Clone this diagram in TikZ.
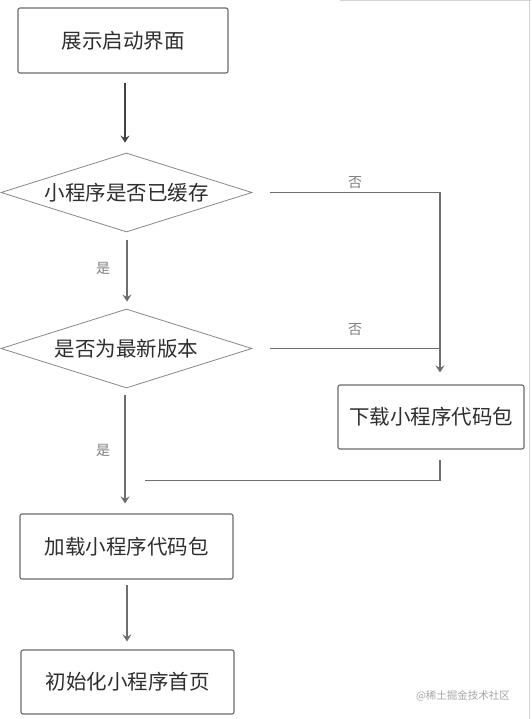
\documentclass[tikz,border=0pt]{standalone}
\usepackage{fontspec}
\newfontfamily\cjk{Noto Sans CJK SC}
\usetikzlibrary{shapes.geometric,arrows.meta}
\definecolor{boxline}{HTML}{6A6A6A}
\definecolor{conn}{HTML}{6E6E6E}
\definecolor{txt}{HTML}{2E2E2E}
\definecolor{lbl}{HTML}{808080}
\definecolor{edge}{HTML}{D4D4D4}
\tikzset{
  stepbox/.style={draw=boxline, line width=1.1pt, rounded corners=2pt, inner sep=0pt, font=\cjk\fontsize{20.5}{24}\selectfont, text=txt},
  decision/.style={draw=boxline!80, line width=0.8pt, shape=diamond, aspect=3.18, inner sep=0pt, minimum width=251pt, minimum height=79pt},
  conntext/.style={font=\cjk\fontsize{20.5}{24}\selectfont, text=txt, inner sep=0pt},
  arr/.style={draw=conn, line width=1.4pt, -{Stealth[length=7pt,width=9pt,inset=2.5pt]}},
  ln/.style={draw=conn, line width=1.4pt},
  yn/.style={font=\cjk\fontsize{14}{16}\selectfont, text=lbl, inner sep=0pt},
}
\begin{document}
\begin{tikzpicture}[x=1pt,y=-1pt]
\useasboundingbox (0,0) rectangle (531,719);
\fill[white] (0,0) rectangle (531,719);
\draw[edge, line width=1pt] (340,0.5) -- (531,0.5);
\draw[edge, line width=1pt] (529.5,0) -- (529.5,719);

\node[stepbox, minimum width=210pt, minimum height=65pt] (b1) at (123,40.5) {展示启动界面};
\node[decision] (d1) at (126.5,192.5) {};
\node[conntext] (t1) at (d1.center) {小程序是否已缓存};
\node[decision] (d2) at (126.5,348.5) {};
\node[conntext] (t2) at (d2.center) {是否为最新版本};
\node[stepbox, minimum width=186pt, minimum height=64pt] (b3) at (431,417) {下载小程序代码包};
\node[stepbox, minimum width=213pt, minimum height=65pt] (b4) at (126.5,546.5) {加载小程序代码包};
\node[stepbox, minimum width=213pt, minimum height=64pt] (b5) at (127.5,682) {初始化小程序首页};

\coordinate (c1) at (440,192.5);
\coordinate (c2) at (440,348.5);
\coordinate (j1) at (440,480.5);
\coordinate (j2) at (145,480.5);

% connectors
\draw[arr, draw=txt!90, shorten <=9pt, shorten >=10pt] ([xshift=2pt]b1.south) -- ([xshift=-1.5pt]d1.north);
\draw[arr, shorten <=8pt, shorten >=7pt] ([xshift=0.5pt]d1.south) -- ([xshift=0.5pt]d2.north);
\draw[arr, shorten <=18pt, shorten >=12pt] (d1.east) -- (c1) -- (c1 |- b3.north);
\draw[ln, shorten <=18pt] (d2.east) -- (c2);
\draw[ln, shorten <=10pt] (c2 |- b3.south) -- (j1) -- (j2);
\draw[arr, shorten <=7pt, shorten >=10pt] ([xshift=-1.5pt]d2.south) -- ([xshift=-1.5pt]d2.south |- b4.north);
\draw[arr, shorten <=5pt, shorten >=8pt] ([xshift=0.5pt]b4.south) -- ([xshift=-0.5pt]b5.north);

% labels
\node[yn] (n1) at (355,183) {否};
\node[yn] (n2) at (355,330) {否};
\node[yn] (y1) at (103,268) {是};
\node[yn] (y2) at (103,450) {是};

\node[font=\cjk\fontsize{10.5}{12}\selectfont, text=black!35, inner sep=0pt] (wm) at (463,696) {@稀土掘金技术社区};
\end{tikzpicture}
\end{document}
